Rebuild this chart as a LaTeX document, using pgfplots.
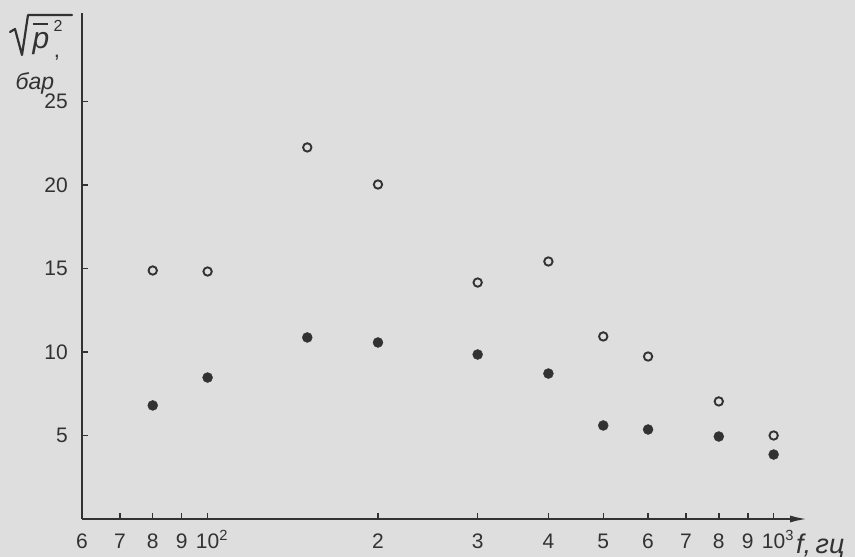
\documentclass[border=0pt]{standalone}
\usepackage{fontspec}
\setmainfont{Liberation Sans}
\usepackage{pgfplots}
\pgfplotsset{compat=1.18}
\usetikzlibrary{arrows.meta}
\definecolor{bg}{RGB}{222,222,222}
\definecolor{ink}{RGB}{50,50,50}
\pgfdeclarelayer{background}
\pgfsetlayers{background,main}
\begin{document}
\begin{tikzpicture}
\begin{axis}[
  scale only axis, width=726pt, height=506pt,
  xmode=log, xmin=60, xmax=1150, ymin=0, ymax=30.3,
  axis x line=bottom, axis y line*=left,
  x axis line style={-{Latex[length=18pt,width=7pt]}},
  axis line style={ink, line width=2.4pt},
  tick style={ink, line width=1.5pt}, major tick length=6pt,
  tick align=inside,
  xtick={60,70,80,90,100,200,300,400,500,600,700,800,900,1000},
  xticklabels={6,7,8,9,10\rlap{\smash{\textsuperscript{2}}},2,3,4,5,6,7,8,9,10\rlap{\smash{\textsuperscript{3}}}},
  ytick={5,10,15,20,25},
  yticklabels={5,10,15,20,25},
  tick label style={font=\fontsize{21}{23}\selectfont, text=ink, inner sep=0pt},
  yticklabel shift=14pt,
  xticklabel shift=14pt,
  xticklabel style={text height=15pt, text depth=0pt},
  clip=false,
]
\addplot[only marks, mark=o, mark size=4.2pt, mark options={line width=1.9pt, draw=ink}] coordinates {
(80,14.88) (100,14.82) (150,22.25) (200,20.03) (300,14.16) (400,15.42) (500,10.93) (600,9.73) (800,7.04) (1000,5.0)
};
\addplot[only marks, mark=*, mark size=5pt, mark options={draw=ink, fill=ink}] coordinates {
(80,6.80) (100,8.47) (150,10.87) (200,10.57) (300,9.85) (400,8.71) (500,5.60) (600,5.36) (800,4.94) (1000,3.86)
};
\coordinate (O) at (rel axis cs:0,0);
\coordinate (T) at (rel axis cs:0,1);
\coordinate (R) at (rel axis cs:1,0);
\end{axis}
% x-axis unit label
\node[anchor=west, text=ink, font=\fontsize{27}{29}\selectfont, inner sep=0pt] at ([shift={(-12pt,-27pt)}]R) {\itshape f,\,гц};
% y-axis label: radical drawn, letters as text
\draw[ink, line width=2.2pt, line join=round, line cap=round]
  ([shift={(-72pt,-19pt)}]T) -- ([shift={(-67pt,-16pt)}]T) -- ([shift={(-60pt,-42pt)}]T)
  -- ([shift={(-54pt,-2pt)}]T) -- ([shift={(-10pt,-2pt)}]T);
\draw[ink, line width=2pt] ([shift={(-49pt,-11pt)}]T) -- ([shift={(-34pt,-11pt)}]T);
\node[text=ink, font=\fontsize{30}{32}\selectfont, inner sep=0pt, anchor=base] at ([shift={(-41pt,-36pt)}]T) {\itshape p};
\node[text=ink, font=\fontsize{16}{18}\selectfont, inner sep=0pt] at ([shift={(-24pt,-13pt)}]T) {2};
\node[text=ink, font=\fontsize{22}{24}\selectfont, inner sep=0pt, anchor=base] at ([shift={(-25pt,-45pt)}]T) {,};
\node[text=ink, font=\fontsize{23}{25}\selectfont, inner sep=0pt] at ([shift={(-47pt,-70pt)}]T) {\itshape бар};
\pgfresetboundingbox
\path[use as bounding box] (O) ++(-82pt,-38pt) rectangle ++(855pt,557pt);
\begin{pgfonlayer}{background}
\fill[bg] (O) ++(-82pt,-38pt) rectangle ++(855pt,557pt);
\end{pgfonlayer}
\end{tikzpicture}
\end{document}
